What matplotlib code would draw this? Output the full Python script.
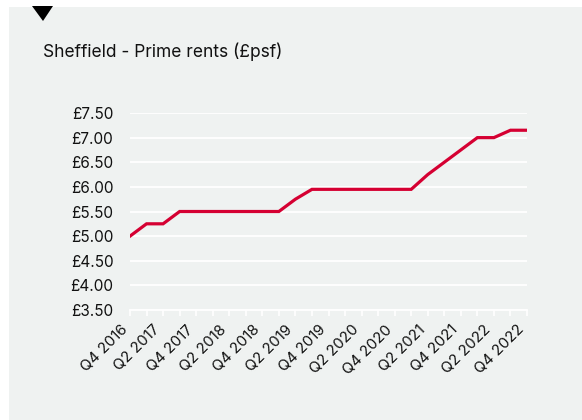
import matplotlib
matplotlib.use("Agg")
import matplotlib.pyplot as plt
from matplotlib.patches import Rectangle, Polygon

plt.rcParams['font.family'] = ['Inter', 'DejaVu Sans']

quarters = ["Q4 2016", "Q1 2017", "Q2 2017", "Q3 2017", "Q4 2017",
            "Q1 2018", "Q2 2018", "Q3 2018", "Q4 2018",
            "Q1 2019", "Q2 2019", "Q3 2019", "Q4 2019",
            "Q1 2020", "Q2 2020", "Q3 2020", "Q4 2020",
            "Q1 2021", "Q2 2021", "Q3 2021", "Q4 2021",
            "Q1 2022", "Q2 2022", "Q3 2022", "Q4 2022"]
rents = [5.00, 5.25, 5.25, 5.50, 5.50,
         5.50, 5.50, 5.50, 5.50,
         5.50, 5.75, 5.95, 5.95,
         5.95, 5.95, 5.95, 5.95,
         5.95, 6.25, 6.50, 6.75,
         7.00, 7.00, 7.15, 7.15]
y_ticks = [3.5, 4.0, 4.5, 5.0, 5.5, 6.0, 6.5, 7.0, 7.5]
title = "Sheffield - Prime rents (£psf)"

W, H = 582, 420
fig = plt.figure(figsize=(W / 100, H / 100), dpi=100)
fig.patch.set_facecolor('white')

bg = '#eff2f1'
fig.patches.append(Rectangle((9 / W, 0), 1, 1 - 7 / H, transform=fig.transFigure,
                             facecolor=bg, edgecolor='none', zorder=-2))
fig.patches.append(Polygon([(32 / W, 1 - 6 / H), (53 / W, 1 - 6 / H), (43 / W, 1 - 21 / H)],
                           closed=True, transform=fig.transFigure,
                           facecolor='black', edgecolor='none', zorder=-1))

fig.text(43 / W, 1 - 52 / H, title, fontsize=12.5, color='#111111', va='center', ha='left')

ax = fig.add_axes([130 / W, 1 - 310 / H, 397 / W, 197 / H])
ax.set_facecolor('none')
x = list(range(len(quarters)))
ax.plot(x, rents, color='#d50032', linewidth=2.3, solid_joinstyle='miter', zorder=3)

ax.set_xlim(0, len(quarters) - 1)
ax.set_ylim(3.5, 7.5)
ax.set_yticks(y_ticks)
ax.set_yticklabels([f"£{v:.2f}" for v in y_ticks], fontsize=11, color='#111111')
ax.tick_params(axis='y', length=0, pad=12)
ax.grid(axis='y', color='white', linewidth=1.3, zorder=1)
ax.set_axisbelow(True)

ax.set_xticks(x)
ax.set_xticklabels([q if i % 2 == 0 else "" for i, q in enumerate(quarters)],
                   rotation=45, ha='right', fontsize=10.8, color='#111111')
ax.tick_params(axis='x', length=4, width=1.2, color='white', pad=5)

for s in ['top', 'right', 'left']:
    ax.spines[s].set_visible(False)
ax.spines['bottom'].set_color('white')
ax.spines['bottom'].set_linewidth(1.3)

fig.savefig('out.png', dpi=100, facecolor='white')
